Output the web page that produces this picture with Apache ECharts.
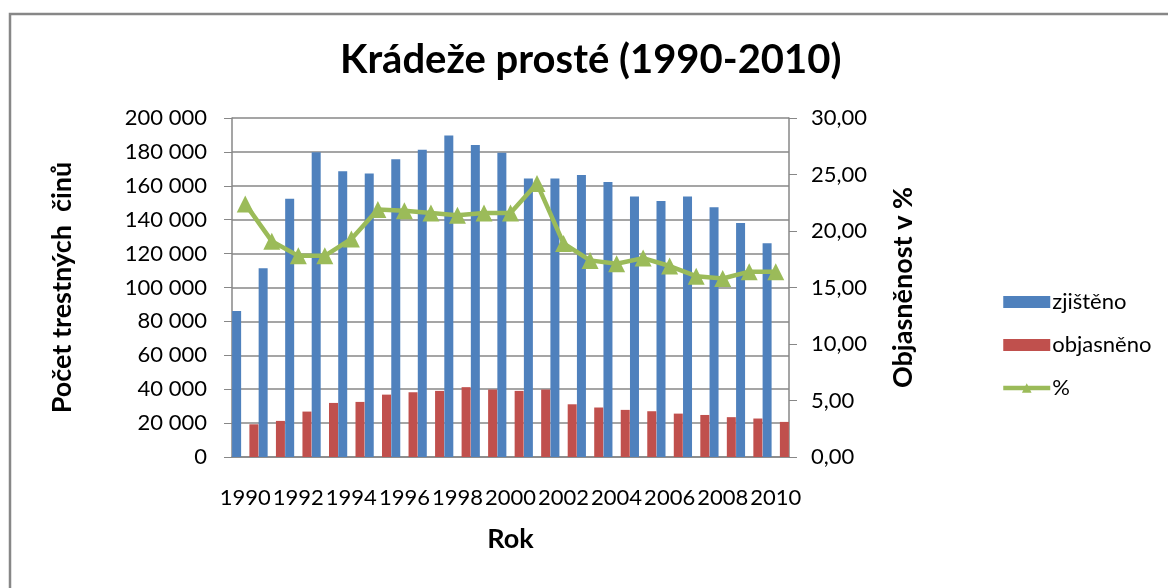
<!DOCTYPE html>
<html>
<head>
<meta charset="utf-8">
<title>Krádeže prosté (1990-2010)</title>
<script src="https://cdn.jsdelivr.net/npm/echarts@6/dist/echarts.min.js"></script>
<style>
    html, body { margin: 0; padding: 0; background: #fff; }
    #chart { width: 1168px; height: 588px; }
</style>
</head>
<body>
<div id="chart"></div>
<script>
var years = ['1990', '1991', '1992', '1993', '1994', '1995', '1996', '1997', '1998', '1999', '2000',
             '2001', '2002', '2003', '2004', '2005', '2006', '2007', '2008', '2009', '2010'];

// zjištěno - zjištěné trestné činy
var zjisteno = [86100, 111300, 152300, 179800, 168600, 167300, 175700, 181300, 189700, 184000, 179500,
                164300, 164300, 166300, 162200, 153700, 151100, 153700, 147400, 138100, 126100];

// objasněno
var objasneno = [19300, 21300, 26800, 31900, 32500, 36800, 38200, 39000, 41200, 39800, 39000,
                 39800, 31100, 29200, 27800, 27000, 25600, 24800, 23500, 22700, 20700];

// % objasněnosti
var procento = [22.4, 19.1, 17.8, 17.8, 19.3, 21.9, 21.8, 21.6, 21.4, 21.6, 21.6,
                24.2, 18.9, 17.4, 17.1, 17.6, 16.9, 16.0, 15.8, 16.4, 16.4];

var leftTicks = [0, 200000, 20000];   // min, max, interval
var rightTicks = [0, 30, 5];

(function(win) {

    var font = 'Lato',
        gray = '#878787',
        green = '#9bbb59',
        chart = echarts.init(document.getElementById('chart'));

    var fmtThousands = function(v) {
        return String(v).replace(/\B(?=(\d{3})+(?!\d))/g, ' ');
    };

    var axisName = { fontFamily: font, fontSize: 27, fontWeight: 'bold', color: '#000' };

    chart.setOption({
        animation: false,
        backgroundColor: '#fff',
        textStyle: { fontFamily: font, color: '#000' },
        title: {
            text: 'Krádeže prosté (1990-2010)',
            left: 340,
            top: 40,
            padding: 0,
            textStyle: { fontFamily: font, fontSize: 40, fontWeight: 'bold', color: '#000' }
        },
        graphic: [{
            type: 'rect',
            shape: { x: 10, y: 14, width: 1200, height: 620 },
            style: { fill: null, stroke: gray, lineWidth: 2.5 },
            silent: true
        }],
        legend: {
            orient: 'vertical',
            left: 996,
            top: 286,
            itemWidth: 47,
            itemHeight: 12,
            itemGap: 21,
            textStyle: { fontFamily: font, fontSize: 22, color: '#000', padding: [0, 0, 0, -3] },
            data: [
                { name: 'zjištěno', icon: 'rect' },
                { name: 'objasněno', icon: 'rect' },
                { name: '%', lineStyle: { width: 4.5 } }
            ]
        },
        grid: {
            left: 232,
            right: 379,
            top: 118,
            bottom: 131
        },
        xAxis: {
            type: 'category',
            data: years,
            name: 'Rok',
            nameLocation: 'middle',
            nameGap: 69,
            nameTextStyle: axisName,
            axisLine: { lineStyle: { color: gray, width: 1.5 } },
            axisTick: { interval: 0, length: 8, lineStyle: { color: gray } },
            axisLabel: { interval: 1, margin: 30, fontFamily: font, fontSize: 22, color: '#000' }
        },
        yAxis: [{
            type: 'value',
            min: leftTicks[0],
            max: leftTicks[1],
            interval: leftTicks[2],
            name: 'Počet trestných  činů',
            nameLocation: 'middle',
            nameGap: 156,
            nameRotate: 90,
            nameTextStyle: axisName,
            axisLine: { show: true, lineStyle: { color: gray, width: 1.5 } },
            axisTick: { show: true, length: 8, lineStyle: { color: gray } },
            axisLabel: { margin: 25, fontFamily: font, fontSize: 22, color: '#000', formatter: fmtThousands },
            splitLine: { lineStyle: { color: gray, width: 1.5 } }
        }, {
            type: 'value',
            min: rightTicks[0],
            max: rightTicks[1],
            interval: rightTicks[2],
            name: 'Objasněnost v %',
            nameLocation: 'middle',
            nameGap: 101,
            nameRotate: 90,
            nameTextStyle: axisName,
            axisLine: { show: true, lineStyle: { color: gray, width: 1.5 } },
            axisTick: { show: true, length: 8, lineStyle: { color: gray } },
            axisLabel: {
                margin: 22, fontFamily: font, fontSize: 22, color: '#000',
                formatter: function(v) { return v.toFixed(2).replace('.', ','); }
            },
            splitLine: { show: false }
        }],
        series: [{
            name: 'zjištěno',
            type: 'bar',
            data: zjisteno,
            barWidth: 9,
            barGap: '92%',
            itemStyle: { color: '#4f81bd' }
        }, {
            name: 'objasněno',
            type: 'bar',
            data: objasneno,
            barWidth: 9,
            itemStyle: { color: '#c0504d' }
        }, {
            name: '%',
            type: 'line',
            yAxisIndex: 1,
            data: procento,
            symbol: 'triangle',
            symbolSize: 17,
            z: 5,
            lineStyle: { color: green, width: 4.5 },
            itemStyle: { color: green }
        }]
    });

}(this));
</script>
</body>
</html>
